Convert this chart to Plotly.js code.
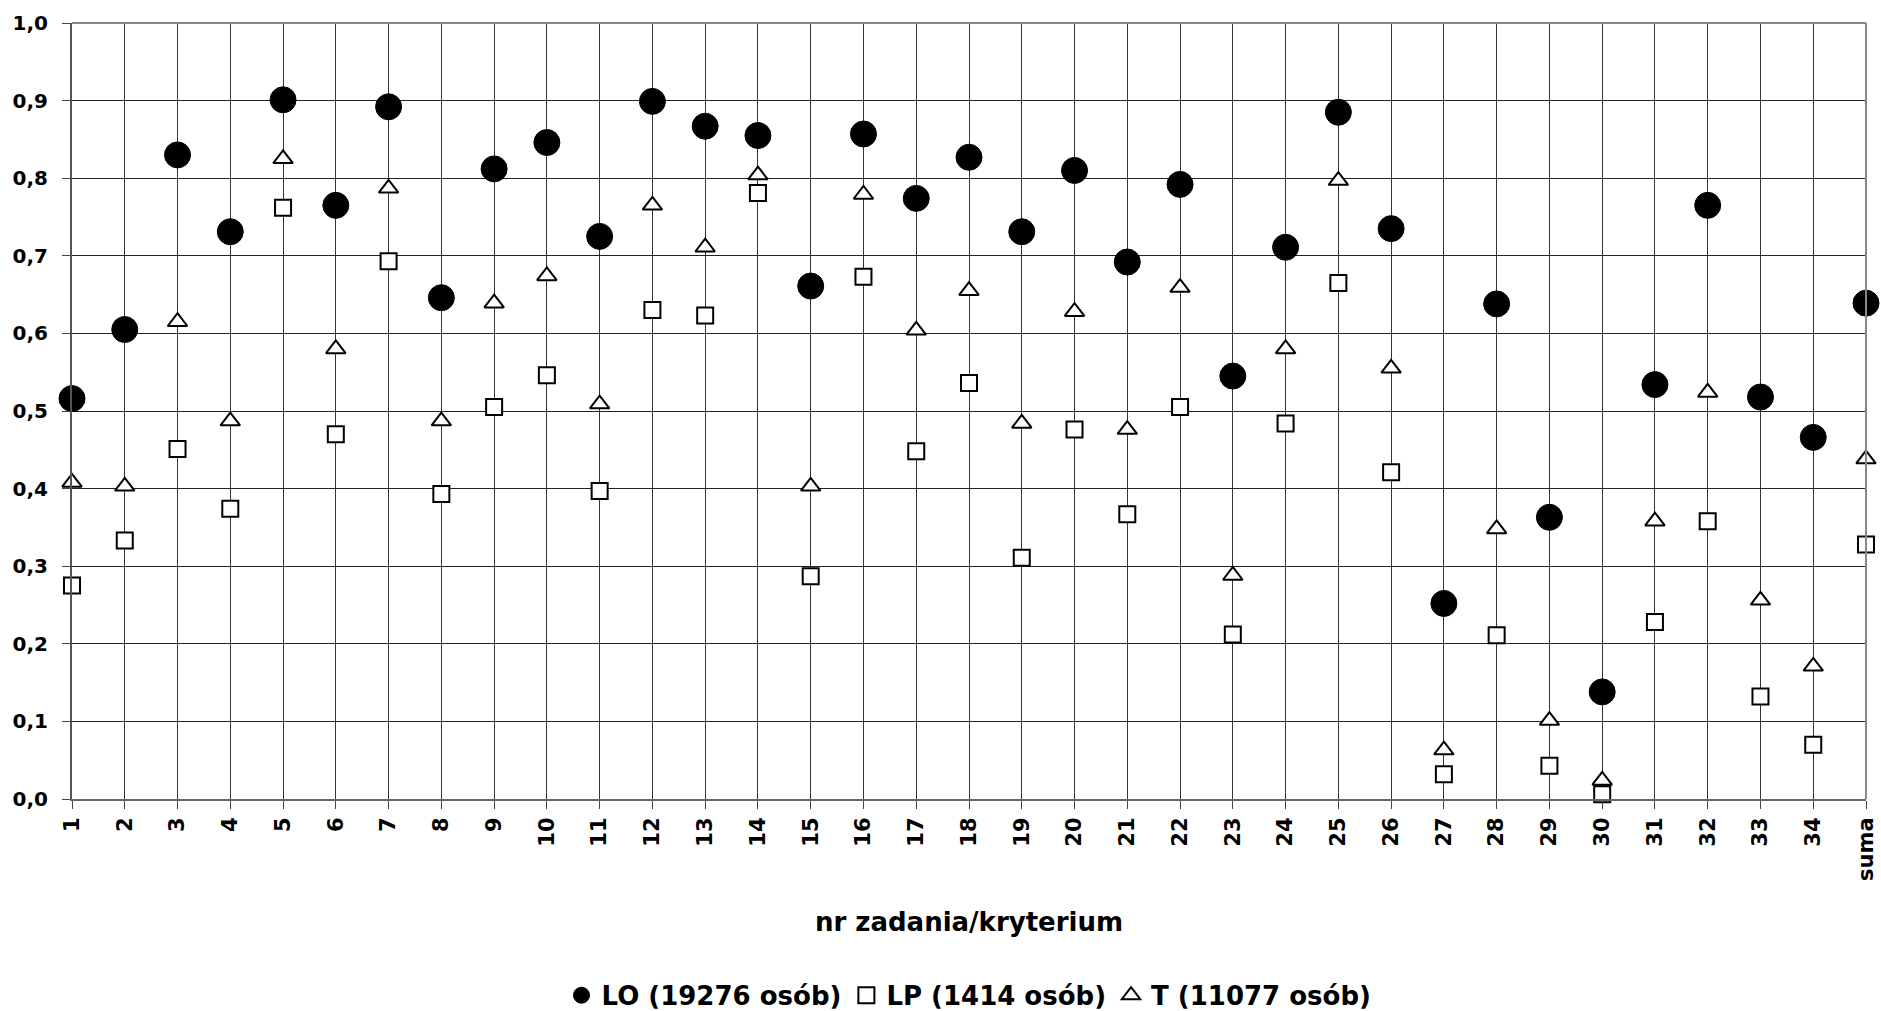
<!DOCTYPE html>
<html>
<head>
<meta charset="utf-8">
<script src="https://cdn.plot.ly/plotly-3.0.1.min.js"></script>
<style>html,body{margin:0;padding:0;background:#fff;}#chart{width:1881px;height:1011px;}</style>
</head>
<body>
<div id="chart"></div>
<script>
const categories = ['1','2','3','4','5','6','7','8','9','10','11','12','13','14','15','16','17','18','19','20','21','22','23','24','25','26','27','28','29','30','31','32','33','34','suma'];
const LO = [0.516,0.605,0.830,0.731,0.901,0.765,0.892,0.646,0.812,0.846,0.725,0.899,0.867,0.855,0.661,0.857,0.774,0.827,0.731,0.810,0.692,0.792,0.545,0.711,0.885,0.735,0.252,0.638,0.363,0.138,0.534,0.765,0.518,0.466,0.639];
const LP = [0.275,0.333,0.451,0.374,0.762,0.470,0.693,0.393,0.505,0.546,0.397,0.630,0.623,0.781,0.287,0.673,0.448,0.536,0.311,0.476,0.367,0.505,0.212,0.484,0.665,0.421,0.032,0.211,0.043,0.006,0.228,0.358,0.132,0.070,0.328];
const T  = [0.408,0.403,0.615,0.487,0.825,0.580,0.787,0.487,0.639,0.674,0.509,0.765,0.711,0.804,0.403,0.779,0.604,0.655,0.484,0.628,0.476,0.659,0.288,0.580,0.797,0.555,0.063,0.348,0.101,0.024,0.358,0.524,0.256,0.171,0.438];
const seriesNames = ['LO (19276 osób)','LP (1414 osób)','T (11077 osób)'];
const xTitle = 'nr zadania/kryterium';

const FONT = 'DejaVu Sans, Arial, sans-serif';

const traces = [
  {x: categories, y: LO, name: seriesNames[0], type: 'scatter', mode: 'markers', cliponaxis: false,
   marker: {symbol: 'circle', size: 26, color: '#000', line: {color: '#000', width: 1}}},
  {x: categories, y: LP, name: seriesNames[1], type: 'scatter', mode: 'markers', cliponaxis: false,
   marker: {symbol: 'square', size: 16, color: '#fff', line: {color: '#000', width: 2}}},
  {x: categories, y: T, name: seriesNames[2], type: 'scatter', mode: 'markers', cliponaxis: false,
   marker: {symbol: 'triangle-up', size: 17, color: '#fff', line: {color: '#000', width: 2}}}
];

const layout = {
  width: 1881, height: 1011,
  paper_bgcolor: '#fff', plot_bgcolor: '#fff',
  separators: ', ',
  margin: {l: 72, r: 15, t: 23, b: 212, autoexpand: false},
  font: {family: FONT, color: '#000'},
  showlegend: true,
  legend: {orientation: 'h', x: 0.5, xanchor: 'center', y: -0.253, yanchor: 'middle',
           font: {family: FONT, size: 26, color: '#000', weight: 'bold'}, itemwidth: 30, tracegroupgap: 0},
  xaxis: {
    type: 'category', range: [0, 34], automargin: false,
    showgrid: true, gridcolor: '#333', gridwidth: 1,
    showline: true, linecolor: '#666', linewidth: 2, mirror: false,
    ticks: 'outside', ticklen: 8, tickcolor: '#444', tickwidth: 1,
    tickangle: -90,
    tickfont: {family: FONT, size: 21, color: '#000', weight: 'bold'},
    title: {text: xTitle, font: {family: FONT, size: 26, color: '#000', weight: 'bold'}, standoff: 33},
    zeroline: false, fixedrange: true
  },
  yaxis: {
    range: [0, 1], dtick: 0.1, tick0: 0, tickformat: '.1f', automargin: false,
    showgrid: true, gridcolor: '#222', gridwidth: 1,
    showline: true, linecolor: '#555', linewidth: 2,
    ticks: 'outside', ticklen: 8, tickcolor: '#444', tickwidth: 1,
    ticklabelstandoff: 10,
    tickfont: {family: FONT, size: 20, color: '#000', weight: 'bold'},
    zeroline: false, fixedrange: true
  },
  shapes: [
    {type: 'line', xref: 'paper', yref: 'paper', x0: 0, x1: 1, y0: 1, y1: 1, line: {color: '#888', width: 2}},
    {type: 'line', xref: 'paper', yref: 'paper', x0: 1, x1: 1, y0: 0, y1: 1, line: {color: '#888', width: 2}}
  ]
};

Plotly.newPlot('chart', traces, layout, {displayModeBar: false, staticPlot: true});
</script>
</body>
</html>
